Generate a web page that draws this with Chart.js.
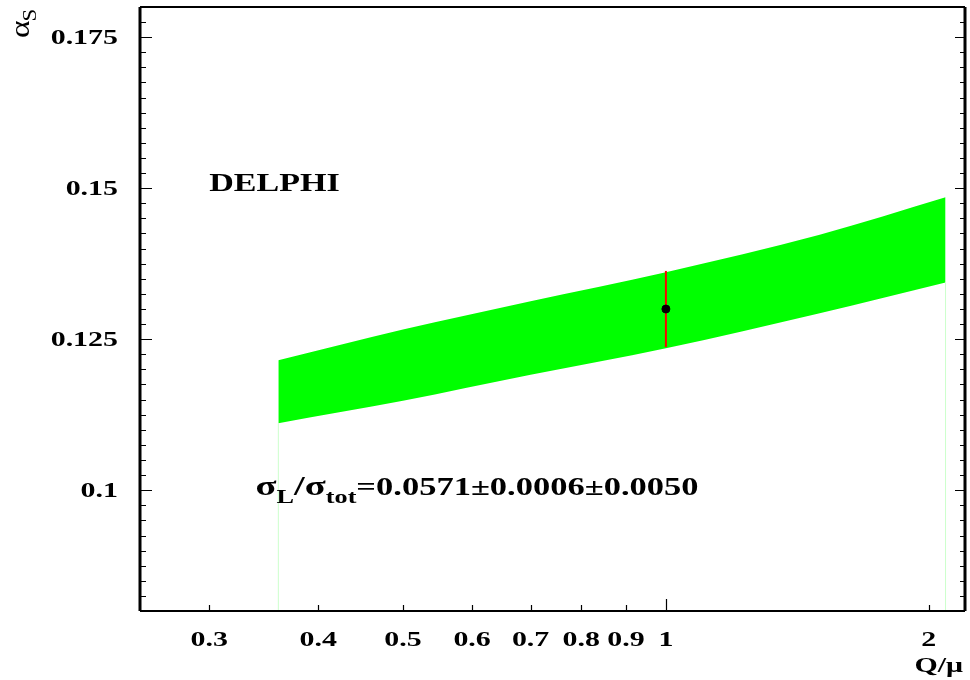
<!DOCTYPE html>
<html>
<head>
<meta charset="utf-8">
<script src="https://cdn.jsdelivr.net/npm/chart.js@4"></script>
<style>
  html, body { margin: 0; padding: 0; background: #fff; }
  #chart { display: block; }
</style>
</head>
<body>
<canvas id="chart" width="970" height="680"></canvas>
<script>
// band of alpha_s vs renormalisation scale Q/mu
const bandQ = [0.36, 0.5, 0.7, 1.0, 1.5, 2.09];
const bandUpper = [0.1215, 0.1266, 0.1313, 0.1361, 0.1423, 0.1485];
const bandLower = [0.1111, 0.1148, 0.1191, 0.1235, 0.1293, 0.1344];

// measured point with error
const pointQ = [1.0];
const pointAlpha = [0.13];
const errLow = [0.1237];
const errHigh = [0.1363];

const xTicks = [0.3, 0.4, 0.5, 0.6, 0.7, 0.8, 0.9, 1, 2];
const xTickLabels = ["0.3", "0.4", "0.5", "0.6", "0.7", "0.8", "0.9", "1", "2"];
const yTicks = [0.1, 0.125, 0.15, 0.175];
const yTickLabels = ["0.1", "0.125", "0.15", "0.175"];

const X_MIN = 0.25, X_MAX = 2.2, Y_MIN = 0.08, Y_MAX = 0.18;

const SERIF = "'Liberation Serif', 'Times New Roman', serif";
const STRETCH = 1.36;

function stretchText(ctx, str, x, y, font, align, sx) {
  ctx.save();
  ctx.font = font;
  ctx.translate(x, y);
  ctx.scale(sx, 1);
  const w = ctx.measureText(str).width;
  let dx = 0;
  if (align === "center") dx = -w / 2;
  else if (align === "right") dx = -w;
  ctx.textAlign = "left";
  ctx.fillText(str, dx, 0);
  ctx.restore();
  return w * sx;
}

// draws a run of pieces [text, size, yOffset]
function richText(ctx, pieces, x, y, sx) {
  let cx = x;
  pieces.forEach((p) => {
    cx += stretchText(ctx, p[0], cx, y + p[2], "bold " + p[1] + "px " + SERIF, "left", sx);
  });
}

const framePlugin = {
  id: "frame",
  afterDatasetsDraw(chart) {
    const ctx = chart.ctx;
    const a = chart.chartArea;
    const xs = chart.scales.x, ys = chart.scales.y;
    ctx.save();
    ctx.strokeStyle = "#000";
    ctx.fillStyle = "#000";

    // frame
    ctx.lineWidth = 3;
    ctx.beginPath();
    ctx.moveTo(a.left, a.top); ctx.lineTo(a.left, a.bottom);
    ctx.moveTo(a.right, a.top); ctx.lineTo(a.right, a.bottom);
    ctx.stroke();
    ctx.lineWidth = 2;
    ctx.beginPath();
    ctx.moveTo(a.left, a.top); ctx.lineTo(a.right, a.top);
    ctx.moveTo(a.left, a.bottom); ctx.lineTo(a.right, a.bottom);
    ctx.stroke();

    // y ticks, left and right
    ctx.lineWidth = 1.2;
    ctx.beginPath();
    for (let i = 33; i < 72; i++) {
      const py = Math.round(ys.getPixelForValue(i * 0.0025)) + 0.5;
      const major = i % 10 === 0;
      ctx.moveTo(a.left, py); ctx.lineTo(a.left + (major ? 12 : 6), py);
      ctx.moveTo(a.right, py); ctx.lineTo(a.right - (major ? 10 : 5), py);
    }
    ctx.stroke();

    // x ticks
    ctx.beginPath();
    xTicks.forEach((v) => {
      const px = Math.round(xs.getPixelForValue(v)) + 0.5;
      ctx.moveTo(px, a.bottom); ctx.lineTo(px, a.bottom - (v === 1 ? 12 : 6));
    });
    ctx.stroke();

    // tick labels
    ctx.textBaseline = "alphabetic";
    xTicks.forEach((v, i) => {
      stretchText(ctx, xTickLabels[i], xs.getPixelForValue(v), 646, "bold 22px " + SERIF, "center", STRETCH);
    });
    yTicks.forEach((v, i) => {
      stretchText(ctx, yTickLabels[i], 118, ys.getPixelForValue(v) + 7, "bold 22px " + SERIF, "right", STRETCH);
    });

    // axis titles
    stretchText(ctx, "Q/\u03bc", 963, 672, "bold 22px " + SERIF, "right", STRETCH);
    ctx.save();
    ctx.translate(29, 38);
    ctx.rotate(-Math.PI / 2);
    ctx.scale(1.2, 1);
    ctx.font = "28px " + SERIF;
    ctx.fillText("\u03b1", 0, 0);
    const aw = ctx.measureText("\u03b1").width;
    ctx.font = "19px " + SERIF;
    ctx.fillText("S", aw - 1, 7);
    ctx.restore();

    // annotations
    stretchText(ctx, "DELPHI", xs.getPixelForValue(0.3), ys.getPixelForValue(0.1496), "bold 26px " + SERIF, "left", 1.31);
    richText(ctx, [
      ["\u03c3", 28, 0], ["L", 19, 8], ["/\u03c3", 28, 0], ["tot", 19, 8],
      ["=0.0571\u00b10.0006\u00b10.0050", 25, 0],
    ], xs.getPixelForValue(0.339), ys.getPixelForValue(0.0992), 1.38);

    ctx.restore();
  },
};

const upper = bandQ.map((q, i) => ({ x: q, y: bandUpper[i] }));
const lower = bandQ.map((q, i) => ({ x: q, y: bandLower[i] }));
const last = bandQ.length - 1;

new Chart(document.getElementById("chart"), {
  type: "line",
  data: {
    datasets: [
      {
        data: lower, borderWidth: 0, pointRadius: 0, fill: false,
        borderColor: "#00ff00", order: 10, cubicInterpolationMode: "monotone",
      },
      {
        data: upper, borderWidth: 0, pointRadius: 0, fill: "-1",
        borderColor: "#00ff00", backgroundColor: "#00ff00", order: 9,
        cubicInterpolationMode: "monotone",
      },
      {
        data: [{ x: bandQ[0], y: Y_MIN }, { x: bandQ[0], y: bandLower[0] }],
        borderColor: "#ccffcc", borderWidth: 1, pointRadius: 0, fill: false, order: 8,
      },
      {
        data: [{ x: bandQ[last], y: Y_MIN }, { x: bandQ[last], y: bandLower[last] }],
        borderColor: "#ccffcc", borderWidth: 1, pointRadius: 0, fill: false, order: 8,
      },
      {
        data: [{ x: pointQ[0], y: errLow[0] }, { x: pointQ[0], y: errHigh[0] }],
        borderColor: "#ff0000", borderWidth: 2, pointRadius: 0, fill: false, order: 1,
      },
      {
        data: pointQ.map((q, i) => ({ x: q, y: pointAlpha[i] })),
        showLine: false, pointRadius: 4, pointBackgroundColor: "#000",
        pointBorderColor: "#000", pointBorderWidth: 1, order: 0,
      },
    ],
  },
  options: {
    responsive: false,
    animation: false,
    devicePixelRatio: 1,
    layout: { padding: { left: 140, right: 5, top: 7, bottom: 69 } },
    plugins: { legend: { display: false }, tooltip: { enabled: false } },
    scales: {
      x: { type: "logarithmic", min: X_MIN, max: X_MAX, display: false },
      y: { type: "linear", min: Y_MIN, max: Y_MAX, display: false },
    },
  },
  plugins: [framePlugin],
});
</script>
</body>
</html>
